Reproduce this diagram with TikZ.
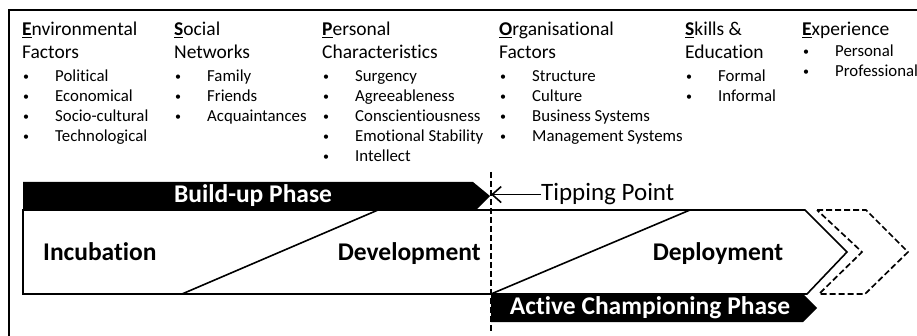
\documentclass[tikz,border=0pt]{standalone}
\usepackage{fontspec}
\setmainfont{Carlito}[Ligatures=NoCommon]
\usetikzlibrary{arrows.meta}
\newcommand{\firstletter}[1]{\underline{\textbf{#1}}}
\newcommand{\bul}{\hspace*{1pt}\makebox[32pt][l]{\raisebox{1pt}{\fontsize{12}{12}\selectfont\textbullet}}}

\begin{document}
\begin{tikzpicture}[x=1pt,y=-1pt,
	head/.style={anchor=base west,inner sep=0pt,font=\fontsize{19.5}{23}\selectfont},
	item/.style={anchor=base west,inner sep=0pt,font=\fontsize{16.8}{20}\selectfont},
	phase/.style={inner sep=0pt,font=\fontsize{25.5}{30}\selectfont\bfseries},
	thick line/.style={line width=1.6pt},
	dash line/.style={line width=1.7pt,dash pattern=on 6pt off 3pt}]
	\useasboundingbox (0,0) rectangle (917,336);

	% Frame
	\draw[line width=1.2pt] (9,336) -- (9,10) -- (917,10);

	% Columns of factors
	\node[head] (env1) at (22,36) {\firstletter{E}nvironmental};
	\node[head] (env2) at (22,59) {Factors};
	\foreach \t [count=\i] in {Political,Economical,Socio-cultural,Technological}
		\node[item] (env-\i) at (22,62+20*\i) {\bul\t};

	\node[head] (soc1) at (174,36) {\firstletter{S}ocial};
	\node[head] (soc2) at (174,59) {Networks};
	\foreach \t [count=\i] in {Family,Friends,Acquaintances}
		\node[item] (soc-\i) at (174,62+20*\i) {\bul\t};

	\node[head] (pers1) at (322,36) {\firstletter{P}ersonal};
	\node[head] (pers2) at (322,59) {Characteristics};
	\foreach \t [count=\i] in {Surgency,Agreeableness,Conscientiousness,Emotional Stability,Intellect}
		\node[item] (pers-\i) at (322,62+20*\i) {\bul\t};

	\node[head] (org1) at (499,36) {\firstletter{O}rganisational};
	\node[head] (org2) at (499,59) {Factors};
	\foreach \t [count=\i] in {Structure,Culture,Business Systems,Management Systems}
		\node[item] (org-\i) at (499,62+20*\i) {\bul\t};

	\node[head] (skill1) at (685,36) {\firstletter{S}kills \&};
	\node[head] (skill2) at (685,59) {Education};
	\foreach \t [count=\i] in {Formal,Informal}
		\node[item] (skill-\i) at (685,62+20*\i) {\bul\t};

	\node[head] (exp1) at (802,36) {\firstletter{E}xperience};
	\foreach \t [count=\i] in {Personal,Professional}
		\node[item] (exp-\i) at (802,37+20*\i) {\bul\t};

	% Build-up phase bar
	\fill (23,182) -- (473,182) -- (490,196) -- (476,210) -- (23,210) -- cycle;
	\node[phase,text=white,anchor=base] (build) at (253,203) {Build-up Phase};

	% Stages box with its two slanted splits
	\draw[thick line] (23,210) -- (805,210) -- (847,252) -- (807,294) -- (23,294) -- cycle;
	\draw[thick line] (182,294) -- (378,210);
	\draw[thick line] (491,294) -- (690,210);
	\node[phase,anchor=base west] (incub) at (43,261) {Incubation};
	\node[phase,anchor=base east] (devel) at (481,261) {Development};
	\node[phase,anchor=base] (deploy) at (718,261) {Deployment};

	% Active championing phase bar
	\fill (491,294) -- (803,294) -- (817,308) -- (803,322) -- (491,322) -- cycle;
	\node[phase,text=white,anchor=base] (champ) at (650,314) {Active Championing Phase};

	% Next stage, still to come
	\draw[dash line] (817,210) -- (866,210) -- (908,252) -- (865,294) -- (819,294) -- (862,252) -- cycle;

	% Tipping point
	\draw[dash line] (491,172) -- (491,332);
	\coordinate (tp) at (491,196);
	\node[inner sep=0pt,anchor=base west,font=\fontsize{25}{29}\selectfont] (tip) at (541,201) {Tipping Point};
	\draw[thick line,-{Straight Barb[length=9pt,width=16pt]}] (tip.west) -- (tip.west -| tp);
\end{tikzpicture}
\end{document}
